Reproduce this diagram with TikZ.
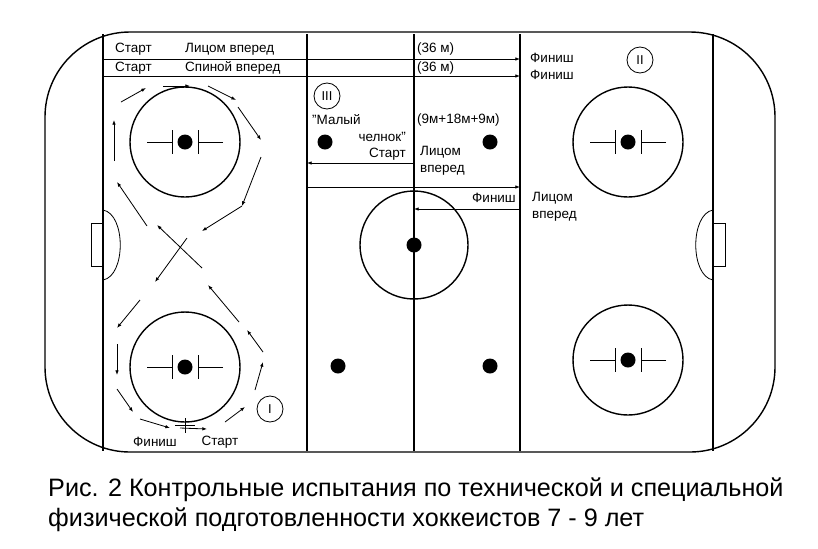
\documentclass[tikz,border=0pt]{standalone}
\usepackage{fontspec}
\setmainfont{Liberation Sans}
\usetikzlibrary{arrows.meta}
\tikzset{
  rinkline/.style={line width=1.2pt},
  thinline/.style={line width=0.7pt},
  arr/.style={line width=0.7pt,-{Latex[length=4pt,width=3pt]}},
  lbl/.style={inner sep=0pt,font=\fontsize{11.5}{13}\selectfont},
  num/.style={draw,circle,line width=0.7pt,minimum size=0.78cm,inner sep=0pt,font=\fontsize{11}{12}\selectfont},
  spot/.style={fill,circle,inner sep=0pt,minimum size=0.45cm}
}
\newcommand{\faceoff}[2]{%
  \draw[rinkline] (#1,#2) circle (55);
  \node[spot] at (#1,#2) {};
  \draw[thinline] (#1-38,#2) -- (#1-13,#2) (#1-13,#2-12) -- (#1-13,#2+12);
  \draw[thinline] (#1+38,#2) -- (#1+13,#2) (#1+13,#2-12) -- (#1+13,#2+12);
}
\begin{document}
\begin{tikzpicture}[x=0.03cm,y=-0.03cm]
\useasboundingbox (0,0) rectangle (818,548);

% rink outline
\draw[rinkline,rounded corners=2.55cm] (45,32) rectangle (775,452);

% goal, blue and centre lines
\foreach \x in {103,307,414,520,713}
\draw[rinkline] (\x,34) -- (\x,451);

% goal creases and nets
\draw[thinline] (103,210) .. controls (126,214) and (126,276) .. (103,280);
\draw[thinline] (103,223) -- (91,223) -- (91,266) -- (103,266);
\draw[thinline] (713,210) .. controls (690,214) and (690,276) .. (713,280);
\draw[thinline] (713,223) -- (725,223) -- (725,266) -- (713,266);

% faceoff circles
\faceoff{185}{142}
\faceoff{185}{367}
\faceoff{628}{142}
\faceoff{628}{360}
\draw[rinkline] (414,245) circle (54);
\node[spot] at (414,245) {};
\foreach \x/\y in {325/142,490/142,338/366,490/366}
\node[spot] at (\x,\y) {};

% test I: figure eight
\foreach \a/\b/\c/\d in {121/102/146/88, 163/86/190/86, 208/86/236/100, 238/107/261/140,
  261/157/242/206, 242/206/202/231, 187/238/155/282, 202/268/157/225, 147/226/117/182,
  114/161/114/120, 140/300/117/328, 117/344/117/375, 117/389/133/412, 140/419/170/428,
  180/428/207/429, 225/422/245/407, 255/390/263/362, 263/352/247/330, 239/322/208/285}
\draw[arr] (\a,\b) -- (\c,\d);
\draw[thinline] (185,418) -- (185,433) (175,425) -- (195,425);
\node[num] (one) at (270,409) {I};
\node[lbl] (finI) at (155,442) {Финиш};
\node[lbl] (startI) at (220,442) {Старт};

% test II: 36 m
\coordinate (a1) at (103,59);
\coordinate (b1) at (520,59);
\coordinate (a2) at (103,76);
\coordinate (b2) at (520,76);
\draw[arr] (a1) -- (b1);
\draw[arr] (a2) -- (b2);
\node[lbl,anchor=base west] (s1) at (115,52) {Старт};
\node[lbl,anchor=base west] (f1) at (185,52) {Лицом вперед};
\node[lbl,anchor=base west] (m1) at (417,52) {(36 м)};
\node[lbl,anchor=base west] (s2) at (115,71) {Старт};
\node[lbl,anchor=base west] (f2) at (185,71) {Спиной вперед};
\node[lbl,anchor=base west] (m2) at (417,71) {(36 м)};
\node[lbl,anchor=base west] (e1) at (530,62) {Финиш};
\node[lbl,anchor=base west] (e2) at (530,79) {Финиш};
\node[num] (two) at (640,60) {II};

% test III: shuttle
\node[num] (three) at (327,96) {III};
\node[lbl,anchor=west] (sh1) at (312,120) {"Малый};
\node[lbl,anchor=east] (sh2) at (406,137) {челнок"};
\node[lbl,anchor=east] (sh3) at (406,154) {Старт};
\node[lbl,anchor=west] (dist) at (417,120) {(9м+18м+9м)};
\node[lbl,anchor=west] (fw1) at (420,152) {Лицом};
\node[lbl,anchor=west] (fw2) at (420,170) {вперед};
\node[lbl,anchor=east] (fin3) at (516,198) {Финиш};
\node[lbl,anchor=west] (fw3) at (532,198) {Лицом};
\node[lbl,anchor=west] (fw4) at (532,216) {вперед};
\coordinate (c1) at (414,163);
\coordinate (c2) at (307,163);
\coordinate (c3) at (307,187);
\coordinate (c4) at (520,187);
\coordinate (c5) at (520,209);
\coordinate (c6) at (414,209);
\draw[arr] (c1) -- (c2);
\draw[arr] (c3) -- (c4);
\draw[arr] (c5) -- (c6);

% caption
\node[anchor=north west,inner sep=0pt,align=left,font=\fontsize{21.5}{25}\selectfont] (cap) at (48,478)
{Рис. 2 Контрольные испытания по технической и специальной\\физической подготовленности хоккеистов 7 - 9 лет};
\end{tikzpicture}
\end{document}
